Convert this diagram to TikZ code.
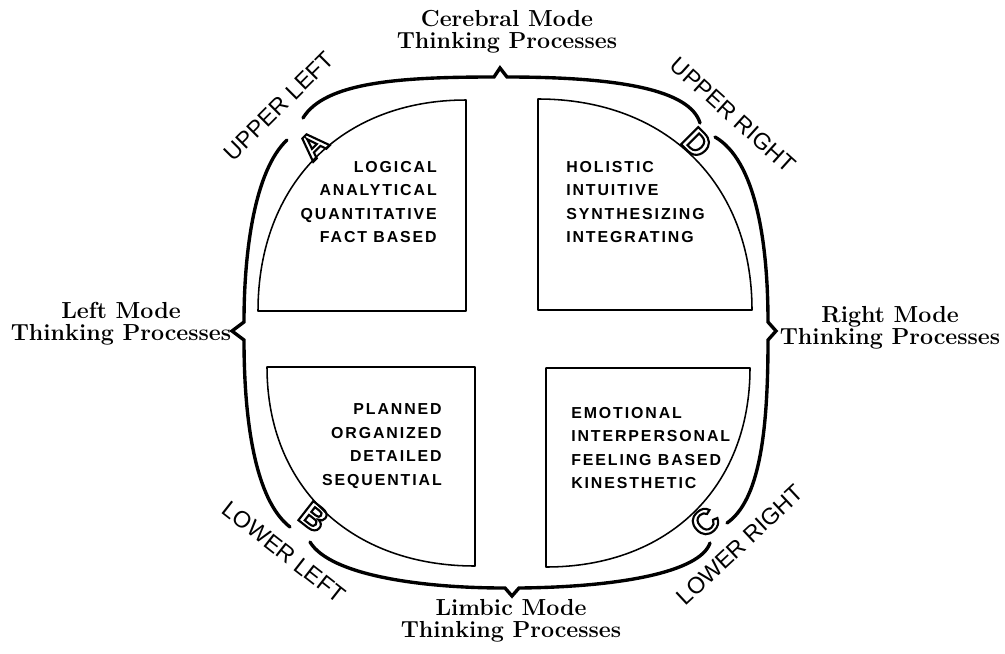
\documentclass[tikz,border=0pt]{standalone}
\usepackage{fontspec}
\usepackage{xcolor}
\newfontfamily\quadfont[LetterSpace=12]{Liberation Sans}
\newfontfamily\cornerfont{Liberation Sans}
\newcommand{\hollow}[1]{\special{pdf:literal direct 1 Tr 1.5 w}#1\special{pdf:literal direct 0 Tr}}
\usepackage{tikz}
\usetikzlibrary{positioning}
\tikzset{
  quadbox/.style={
    draw=black,
    line width=1.1pt,
    line join=round
  },
  quadtext/.style={
    font=\quadfont\bfseries\fontsize{11.3}{16.7}\selectfont,
    inner sep=0pt
  },
  modelabel/.style={
    font=\bfseries\fontsize{16.5}{15.5}\selectfont,
    align=center,
    inner sep=0pt
  },
  cornerlabel/.style={
    font=\cornerfont\fontsize{16.5}{18}\selectfont,
    inner sep=0pt
  },
  cornerletter/.style={
    font=\cornerfont\bfseries\fontsize{25}{25}\selectfont,
    inner sep=0pt
  },
  bracket/.style={
    draw=black,
    line width=2.4pt,
    line cap=round
  }
}

\begin{document}
\begin{tikzpicture}[x=0.025cm,y=-0.025cm]
  \fill[white] (0,0) rectangle (1005,653);
  \useasboundingbox (0,0) rectangle (1005,653);
  % quadrants: inner corner / outer ends
  \foreach \cx/\cy/\ex/\ey in {466/311/258/100, 538/310/752/99, 475/367/267/566, 546/368/750/567}{
    \draw[quadbox] (\cx,\cy) -- (\cx,\ey) .. controls ({\cx+0.6*(\ex-\cx)},\ey) and (\ex,{\cy+0.6*(\ey-\cy)}) .. (\ex,\cy) -- cycle;
  }
  \node[quadtext, anchor=east, align=right] (upleft) at (437,202) {LOGICAL\\ANALYTICAL\\QUANTITATIVE\\FACT BASED};
  \node[quadtext, anchor=west, align=left] (upright) at (566,202) {HOLISTIC\\INTUITIVE\\SYNTHESIZING\\INTEGRATING};
  \node[quadtext, anchor=east, align=right] (lowleft) at (442,446) {PLANNED\\ORGANIZED\\DETAILED\\SEQUENTIAL};
  \node[quadtext, anchor=west, align=left] (lowright) at (571,448) {EMOTIONAL\\INTERPERSONAL\\FEELING BASED\\KINESTHETIC};
  % brackets
  \draw[bracket] (303,118) .. controls (325,82) and (400,77) .. (494,77) -- (500,68) -- (507,77) .. controls (620,77) and (690,90) .. (700,123);
  \draw[bracket] (287,140) .. controls (255,170) and (244,250) .. (244,322) -- (232,331) -- (244,340) .. controls (244,420) and (255,500) .. (290,527);
  \draw[bracket] (715,137) .. controls (755,160) and (768,240) .. (768,322) -- (776,331) -- (768,340) .. controls (768,430) and (760,500) .. (727,523);
  \draw[bracket] (310,542) .. controls (330,575) and (420,588) .. (505,588) -- (512,596) -- (519,588) .. controls (620,587) and (700,572) .. (710,543);
  \node[cornerletter, rotate=45] (letA) at (313,145) {\hollow{A}};
  \node[cornerletter, rotate=-45] (letD) at (697,143) {\hollow{D}};
  \node[cornerletter, rotate=-38] (letB) at (314,517) {\hollow{B}};
  \node[cornerletter, rotate=43] (letC) at (705,522) {\hollow{C}};
  \node[cornerlabel, rotate=45] (ul) at (279,106) {UPPER LEFT};
  \node[cornerlabel, rotate=-42] (ur) at (733,115) {UPPER RIGHT};
  \node[cornerlabel, rotate=-38] (ll) at (284,552) {LOWER LEFT};
  \node[cornerlabel, rotate=43] (lr) at (740,545) {LOWER RIGHT};
  \node[modelabel] (cerebral) at (507,32) {Cerebral Mode\\Thinking Processes};
  \node[modelabel] (leftmode) at (121,324) {Left Mode\\Thinking Processes};
  \node[modelabel] (rightmode) at (890,328) {Right Mode\\Thinking Processes};
  \node[modelabel] (limbic) at (511,621) {Limbic Mode\\Thinking Processes};
\end{tikzpicture}
\end{document}
